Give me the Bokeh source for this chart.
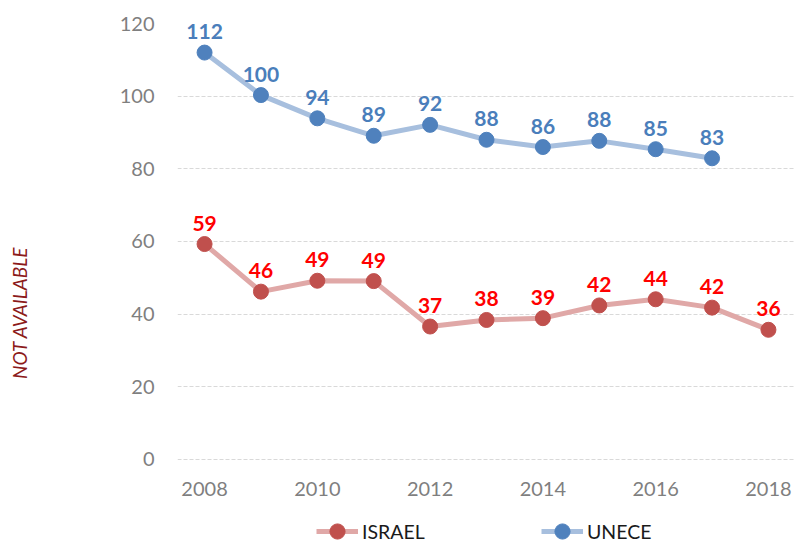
from bokeh.plotting import figure
from bokeh.layouts import row
from bokeh.models import ColumnDataSource, Legend, LegendItem, Label, FixedTicker, Range1d
from bokeh.core.properties import value
from bokeh.embed import file_html
from bokeh.resources import INLINE

years_israel = [2008, 2009, 2010, 2011, 2012, 2013, 2014, 2015, 2016, 2017, 2018]
israel = [59.3, 46.2, 49.2, 49.1, 36.6, 38.4, 38.9, 42.4, 44.1, 41.8, 35.7]
years_unece = [2008, 2009, 2010, 2011, 2012, 2013, 2014, 2015, 2016, 2017]
unece = [112.0, 100.3, 93.9, 89.1, 92.1, 88.0, 86.0, 87.7, 85.4, 82.9]
x_ticks = [2008, 2010, 2012, 2014, 2016, 2018]
y_ticks = [0, 20, 40, 60, 80, 100, 120]

FONT = "Lato"

src_i = ColumnDataSource(dict(x=years_israel, y=israel, lab=[str(round(v)) for v in israel]))
src_u = ColumnDataSource(dict(x=years_unece, y=unece, lab=[str(round(v)) for v in unece]))

# main chart: frame runs to the bottom of the canvas, x axis pinned at y=0
p = figure(width=755, height=543, output_backend="svg", toolbar_location=None,
           x_range=Range1d(2007.52, 2018.48), y_range=Range1d(-23.12, 120),
           min_border_left=137, min_border_right=0, min_border_top=23, min_border_bottom=0)
p.outline_line_color = None
p.background_fill_color = "white"
p.border_fill_color = "white"

p.xgrid.grid_line_color = None
p.ygrid.grid_line_color = "#D9D9D9"
p.ygrid.grid_line_dash = "4 2"
p.ygrid.grid_line_width = 1

for ax in (p.xaxis[0], p.yaxis[0]):
    ax.axis_line_color = None
    ax.major_tick_line_color = None
    ax.minor_tick_line_color = None
    ax.major_tick_out = 0
    ax.major_tick_in = 0
    ax.minor_tick_out = 0
    ax.minor_tick_in = 0
    ax.major_label_text_font = FONT
    ax.major_label_text_font_size = "20px"
    ax.major_label_text_color = "#7F7F7F"
p.xaxis[0].ticker = FixedTicker(ticks=x_ticks)
p.yaxis[0].ticker = FixedTicker(ticks=y_ticks)
p.xaxis[0].fixed_location = 0
p.xaxis[0].major_label_standoff = 23
p.yaxis[0].major_label_standoff = 23

# series
li = p.line("x", "y", source=src_i, line_color="#E0A8A7", line_width=5)
si = p.scatter("x", "y", source=src_i, size=15, fill_color="#C0504D", line_color="#C0504D")
lu = p.line("x", "y", source=src_u, line_color="#A7BFDE", line_width=5)
su = p.scatter("x", "y", source=src_u, size=15, fill_color="#4F81BD", line_color="#4F81BD")

p.text("x", "y", text="lab", source=src_i, text_align="center", text_baseline="alphabetic",
       y_offset=-21, text_font=value(FONT), text_font_style="bold", text_font_size="21px",
       text_color="#FF0000")
p.text("x", "y", text="lab", source=src_u, text_align="center", text_baseline="alphabetic",
       y_offset=-21, text_font=value(FONT), text_font_style="bold", text_font_size="21px",
       text_color="#4A7EBB")

legend = Legend(items=[LegendItem(label="ISRAEL", renderers=[li, si]),
                       LegendItem(label="UNECE", renderers=[lu, su])],
                orientation="horizontal", location=(139, -7),
                glyph_width=42, glyph_height=38, label_height=38, label_width=179,
                label_standoff=4, spacing=0, padding=0, margin=0,
                label_text_font=FONT, label_text_font_size="19.5px", label_text_color="#1A1A1A",
                border_line_color=None, background_fill_alpha=0)
p.add_layout(legend, "center")

# narrow strip on the left for the rotated note
side = figure(width=40, height=543, output_backend="svg", toolbar_location=None,
              x_axis_type=None, y_axis_type=None,
              x_range=Range1d(0, 40), y_range=Range1d(0, 543),
              min_border_left=0, min_border_right=0, min_border_top=0, min_border_bottom=0)
side.outline_line_color = None
side.grid.visible = False
side.add_layout(Label(x=19, y=241, text="NOT AVAILABLE", angle=1.5707963,
                      text_align="center", text_baseline="middle",
                      text_font=FONT, text_font_style="italic", text_font_size="19px",
                      text_color="#8C1A1A"))

layout = row(side, p)
open("out.html", "w").write(file_html(layout, INLINE))
